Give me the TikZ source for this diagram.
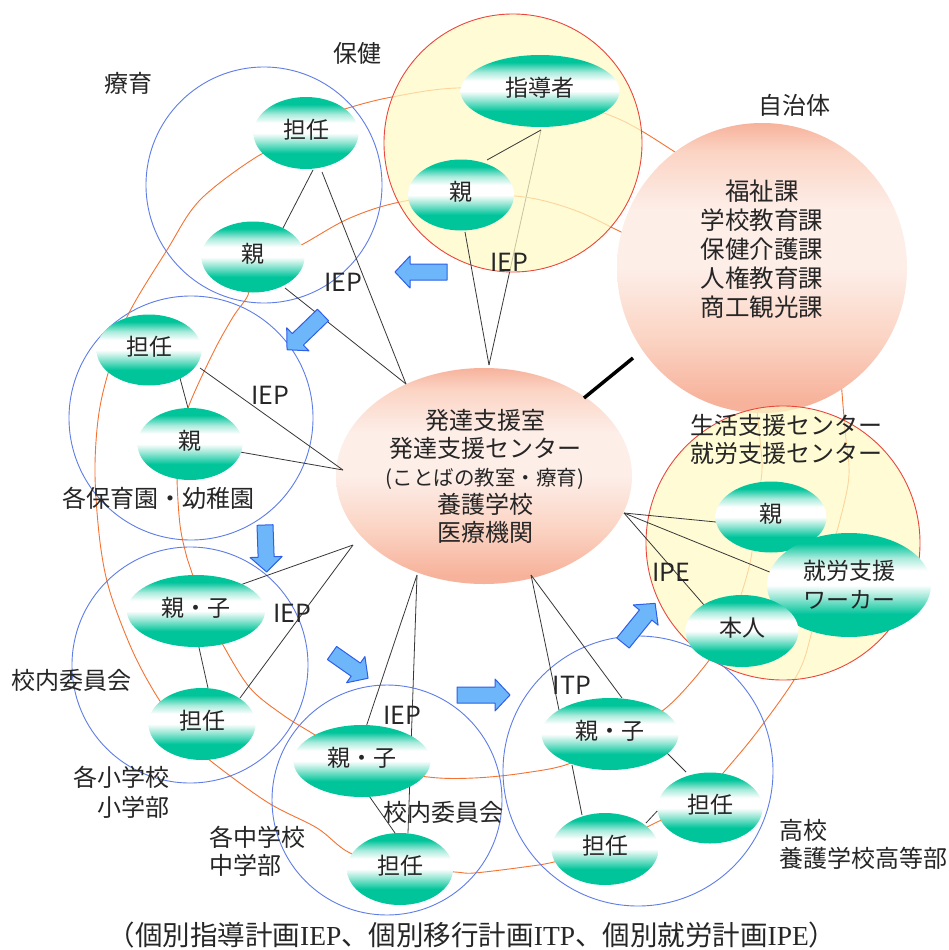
\documentclass[tikz,border=0pt]{standalone}
\usepackage{fontspec}
\setmainfont{Noto Sans CJK JP}
\newfontfamily\capser{Liberation Serif}
\usetikzlibrary{shapes.geometric,calc}

\definecolor{gteal}{RGB}{0,196,154}
\definecolor{gpale}{RGB}{170,235,220}
\definecolor{psal}{RGB}{247,178,155}
\definecolor{plight}{RGB}{251,212,196}
\definecolor{ppale}{RGB}{253,238,232}
\definecolor{ylw}{RGB}{255,250,198}
\definecolor{redb}{RGB}{235,70,60}
\definecolor{bluec}{RGB}{95,125,230}
\definecolor{orl}{RGB}{245,115,50}
\definecolor{grl}{RGB}{55,55,55}
\definecolor{arfill}{RGB}{110,182,250}
\definecolor{ardraw}{RGB}{45,95,235}

\pgfdeclareverticalshading{greenell}{100bp}{color(0bp)=(gteal); color(36bp)=(gteal); color(45bp)=(gpale); color(50bp)=(white); color(57bp)=(white); color(63bp)=(gpale); color(70bp)=(gteal); color(100bp)=(gteal)}
\pgfdeclareverticalshading{pinkball}{100bp}{color(0bp)=(psal); color(27bp)=(psal); color(38bp)=(plight); color(50bp)=(ppale); color(60bp)=(ppale); color(70bp)=(plight); color(75bp)=(psal); color(100bp)=(psal)}

\pgfdeclarelayer{lines0}
\pgfdeclarelayer{pinklayer}
\pgfdeclarelayer{yl}
\pgfdeclarelayer{mid}
\pgfsetlayers{lines0,pinklayer,yl,mid,main}

\tikzset{
 gell/.style={ellipse, shade, shading=greenell, inner sep=0pt, text=black!85, font=\fontsize{23}{29}\selectfont, align=center},
 gone/.style={gell, text height=17.5pt, text depth=7.5pt},
 bcirc/.style={circle, draw=bluec, line width=0.9pt, inner sep=0pt},
 ycirc/.style={circle, draw=redb, fill=ylw, fill opacity=0.72, draw opacity=1, line width=0.9pt, inner sep=0pt},
 pshade/.style={shade, shading=pinkball, inner sep=0pt},
 gline/.style={draw=grl, line width=0.8pt},
 oline/.style={draw=orl, line width=0.9pt},
 barrow/.style={fill=arfill, draw=ardraw, line width=1pt, line join=round},
 lbl/.style={inner sep=0pt, text=black!85, font=\fontsize{24}{28}\selectfont, align=center},
 plantag/.style={inner sep=0pt, text=black!85, font=\fontsize{25}{25}\selectfont},
}

\newcommand{\barrowat}[4]{\draw[barrow, shift={(#1,#2)}, rotate=#3] (0,-8) -- ({#4-15},-8) -- ({#4-15},-16) -- (#4,0) -- ({#4-15},16) -- ({#4-15},8) -- (0,8) -- cycle;}

\begin{document}
\begin{tikzpicture}[x=1pt,y=-1pt]
\useasboundingbox (0,0) rectangle (948,950);

% ---------- green ellipses (top layer) ----------
\node[gone, minimum width=105pt, minimum height=72pt] (ryT) at (306,133) {担任};
\node[gone, minimum width=103pt, minimum height=71pt] (ryP) at (253,257) {親};
\node[gone, minimum width=159pt, minimum height=72pt] (hkS) at (540,91) {指導者};
\node[gone, minimum width=106pt, minimum height=71pt] (hkP) at (461,195) {親};
\node[gone, minimum width=105pt, minimum height=71pt] (hiT) at (149,350) {担任};
\node[gone, minimum width=105pt, minimum height=72pt] (hiP) at (190,444) {親};
\node[gone, minimum width=138pt, minimum height=72pt] (esP) at (196,611) {親・子};
\node[gone, minimum width=107pt, minimum height=72pt] (esT) at (202,724) {担任};
\node[gone, minimum width=137pt, minimum height=72pt] (msP) at (362,761) {親・子};
\node[gone, minimum width=106pt, minimum height=72pt] (msT) at (400,869) {担任};
\node[gone, minimum width=137pt, minimum height=72pt] (hsP) at (610,734) {親・子};
\node[gone, minimum width=105pt, minimum height=71pt] (hsT1) at (710,808) {担任};
\node[gone, minimum width=107pt, minimum height=72pt] (hsT2) at (605,849) {担任};
\node[gone, minimum width=111pt, minimum height=71pt] (lsP) at (771,517) {親};
\node[gell, minimum width=164pt, minimum height=104pt] (lsW) at (849,585) {就労支援\\ワーカー};
\node[gone, minimum width=113pt, minimum height=72pt] (lsH) at (742,631) {本人};

% ---------- pink circle (自治体) ----------
\begin{pgfonlayer}{pinklayer}
\node[circle, pshade, minimum size=290pt] (jichi) at (762,268) {};
\end{pgfonlayer}

% ---------- yellow circles ----------
\begin{pgfonlayer}{yl}
\node[ycirc, minimum size=258pt] (hoken) at (513,143) {};
\node[ycirc, minimum size=274pt] (seikatsu) at (783,543) {};
\end{pgfonlayer}

% ---------- middle layer: blue circles, hub, grey lines ----------
\begin{pgfonlayer}{mid}
\node[bcirc, minimum size=236pt] (ryC) at (264,185) {};
\node[bcirc, minimum size=244pt] (hiC) at (191,418) {};
\node[bcirc, minimum size=236pt] (esC) at (190,665) {};
\node[bcirc, minimum size=230pt] (msC) at (387,800) {};
\node[bcirc, minimum size=270pt] (hsC) at (638,771) {};
\node[ellipse, pshade, minimum width=296pt, minimum height=216pt] (hub) at (484,476) {};

\coordinate (hA) at ($(hub)+(-78,-92)$);
\coordinate (hB) at ($(hub)+(5,-111)$);
\coordinate (hC) at ($(hub)+(-141,-6)$);
\coordinate (hD) at ($(hub)+(-131,69)$);
\coordinate (hE) at ($(hub)+(-67,99)$);
\coordinate (hF) at ($(hub)+(47,99)$);
\coordinate (hG) at ($(hub)+(140,37)$);

\draw[gline] (hA) -- ($(ryT)+(16,39)$);
\draw[gline] (hA) -- ($(ryP)+(32,31)$);
\draw[gline] ($(ryT)+(7,37)$) -- ($(ryP)+(29,-27)$);
\draw[gline] (hB) -- ($(hkP)+(4,37)$);
\draw[gline] ($(hkS)+(1,39)$) -- ($(hkP)+(26,-35)$);
\draw[gline] (hC) -- ($(hiT)+(51,18)$);
\draw[gline] (hC) -- ($(hiP)+(50,8)$);
\draw[gline] ($(hiT)+(28,17)$) -- ($(hiP)+(-2,-36)$);
\draw[gline] (hD) -- ($(esP)+(44,-26)$);
\draw[gline] (hD) -- ($(esT)+(38,-26)$);
\draw[gline] ($(esP)+(2,32)$) -- ($(esT)+(6,-36)$);
\draw[gline] (hE) -- ($(msP)+(3,-31)$);
\draw[gline] (hE) -- ($(msT)+(8,-36)$);
\draw[gline] ($(msP)+(5,32)$) -- ($(msT)+(-5,-36)$);
\draw[gline] (hF) -- ($(hsP)+(-51,-24)$);
\draw[gline] (hF) -- ($(hsP)+(12,-36)$);
\draw[gline] ($(hsP)+(-38,31)$) -- ($(hsT2)+(-23,-34)$);
\draw[gline] ($(hsP)+(54,16)$) -- ($(hsT1)+(-24,-36)$);
\draw[gline] ($(hsT2)+(41,-26)$) -- ($(hsT1)+(-36,-15)$);
\draw[gline] (hG) -- ($(lsP)+(-55,5)$);
\draw[gline] (hG) -- ($(lsW)+(-72,-10)$);
\draw[gline] (hG) -- ($(lsH)+(-38,-26)$);
\draw[black, line width=3.5pt] ($(hub)+(100,-78)$) -- ($(jichi)+(-129,90)$);
\end{pgfonlayer}

% ---------- lowest layer: orange curves ----------
\begin{pgfonlayer}{lines0}
\fill[white] (0,0) rectangle (948,950);
\draw[gline] (hB) -- ($(hkS)+(1,39)$);
\draw[oline] plot[smooth, tension=0.6] coordinates {(320,118) (348,108) (392,97) (457,88) (540,92) (604,113) (640,130) (690,162)};
\draw[oline] plot[smooth, tension=0.6] coordinates {(290,250) (305,243) (350,218) (400,202) (461,195) (524,197) (574,210) (617,230) (660,252)};
\draw[oline] plot[smooth, tension=0.55] coordinates {(290,145) (258,156) (200,200) (167,250) (127,317) (107,377) (98,420) (95,475) (100,542) (110,592) (133,652) (158,698) (185,735) (207,758) (267,802) (317,828) (350,853) (400,868) (455,872) (474,873) (524,867) (554,862) (605,848) (651,825) (700,800) (724,772) (757,732) (797,675) (811,635) (824,575) (840,520) (849,475) (845,430) (841,380)};
\draw[oline] plot[smooth, tension=0.55] coordinates {(250,275) (248,295) (233,317) (213,353) (188,408) (180,444) (177,475) (180,525) (187,558) (192,573) (205,610) (223,645) (250,688) (283,715) (315,735) (362,765) (428,777) (474,778) (524,773) (571,763) (620,735) (666,708) (707,663) (730,625) (741,595) (751,558) (757,508) (762,470) (760,440) (756,400)};
\end{pgfonlayer}

% ---------- blue block arrows ----------
\barrowat{447}{272}{180}{52}
\barrowat{323}{315}{224}{50}
\barrowat{265}{525}{-88}{47}
\barrowat{332}{653}{-35}{44}
\barrowat{457}{695}{0}{53}
\barrowat{623}{643}{51}{51}

% ---------- labels ----------
\node[lbl] (tRyo) at (128,83) {療育};
\node[lbl] (tHok) at (357,53) {保健};
\node[lbl] (tJic) at (794,105) {自治体};
\node[lbl, font=\fontsize{24.5}{29}\selectfont] (jlist) at (762,249) {福祉課\\学校教育課\\保健介護課\\人権教育課\\商工観光課};
\node[lbl] (tSei) at (786,439) {生活支援センター\\就労支援センター};
\node[lbl] (hubtxt) at (485,476) {発達支援室\\発達支援センター\\{\fontsize{20.5}{28}\selectfont (ことばの教室・療育)}\\養護学校\\医療機関};
\node[lbl] (tHoi) at (158,498) {各保育園・幼稚園};
\node[lbl] (tKo1) at (72,680) {校内委員会};
\node[lbl, align=right, anchor=east, font=\fontsize{24}{30}\selectfont] (tSho) at (170,792) {各小学校\\小学部};
\node[lbl, align=left, anchor=west] (tChu) at (209,851) {各中学校\\中学部};
\node[lbl] (tKo2) at (443,812) {校内委員会};
\node[lbl, align=left, anchor=west] (tKou) at (779,844) {高校\\養護学校高等部};

\node[plantag] (iep1) at (343,282) {IEP};
\node[plantag] (iep2) at (270,395) {IEP};
\node[plantag] (iep3) at (509,262) {IEP};
\node[plantag] (iep4) at (292,613) {IEP};
\node[plantag] (iep5) at (402,715) {IEP};
\node[plantag] (itp) at (572,685) {ITP};
\node[plantag] (ipe) at (671,572) {IPE};

\node[inner sep=0pt, text=black!85, font=\fontsize{27.5}{28}\selectfont] (caption) at (472,935) {（個別指導計画{\capser IEP}、個別移行計画{\capser ITP}、個別就労計画{\capser IPE}）};
\end{tikzpicture}
\end{document}
